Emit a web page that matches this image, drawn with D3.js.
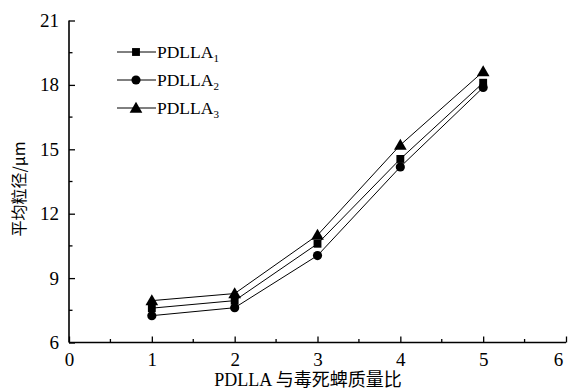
<!DOCTYPE html>
<html>
<head>
<meta charset="utf-8">
<script src="https://cdn.jsdelivr.net/npm/d3@7"></script>
<style>
  body{margin:0;background:#fff}
  svg text{font-family:"Liberation Serif","Noto Sans CJK SC",serif;fill:#000}
</style>
</head>
<body>
<div id="chart"></div>
<script>
// data
const ratios=[1,2,3,4,5]
const pdlla1=[7.6,7.95,10.6,14.55,18.1]
const pdlla2=[7.25,7.62,10.05,14.18,17.88]
const pdlla3=[7.95,8.28,11.0,15.2,18.62]
const seriesNames=["PDLLA","PDLLA","PDLLA"]
const seriesSubs=["1","2","3"]
const xTicks=[0,1,2,3,4,5,6]
const yTicks=[6,9,12,15,18,21]

const width=570,height=389
const padL=69,padR=566,padT=20.5,padB=342.5

const svg=d3.select("#chart").append("svg").attr("width",width).attr("height",height)

const x=d3.scaleLinear().domain([0,6]).range([padL,padR])
const y=d3.scaleLinear().domain([6,21]).range([padB,padT])

// axes with inward ticks
const xAxis=d3.axisBottom(x).tickValues(xTicks).tickSize(-6).tickPadding(10.5).tickFormat(d3.format("d"))
const yAxis=d3.axisLeft(y).tickValues(yTicks).tickSize(-6).tickPadding(10).tickFormat(d3.format("d"))

const gx=svg.append("g").attr("transform","translate(0,"+padB+")").call(xAxis)
const gy=svg.append("g").attr("transform","translate("+padL+",0)").call(yAxis)

// minor ticks
gx.selectAll(".minor").data(d3.range(0.5,6,1)).enter().append("line")
  .attr("x1",d=>x(d)).attr("x2",d=>x(d)).attr("y1",0).attr("y2",-3.5).attr("stroke","#000").attr("stroke-width",1.3)
gy.selectAll(".minor").data(d3.range(7.5,21,3)).enter().append("line")
  .attr("y1",d=>y(d)).attr("y2",d=>y(d)).attr("x1",0).attr("x2",3.5).attr("stroke","#000").attr("stroke-width",1.3)

for(const g of [gx,gy]){
  g.select(".domain").attr("stroke","#000").attr("stroke-width",1.6)
  g.selectAll(".tick line").attr("stroke","#000").attr("stroke-width",1.3)
  g.selectAll(".tick text").style("font-size","19px").style("font-family","Liberation Serif")
}
gx.select(".domain").attr("d","M"+padL+",0H"+padR)
gy.select(".domain").attr("d","M0,"+padB+"V"+padT)
// last x label sits a bit left so it stays inside the page
gx.selectAll(".tick text").filter(d=>d==6).attr("dx",-8)

// series
const allSeries=[pdlla1,pdlla2,pdlla3]
const shapes=[d3.symbolSquare,d3.symbolCircle,d3.symbolTriangle]
const sizes=[62,66,70]
const line=d3.line().x((d,i)=>x(ratios[i])).y(d=>y(d))

allSeries.forEach((vals,k)=>{
  svg.append("path").datum(vals).attr("d",line).attr("fill","none").attr("stroke","#000").attr("stroke-width",1)
  svg.selectAll(".m"+k).data(vals).enter().append("path")
    .attr("d",d3.symbol().type(shapes[k]).size(sizes[k]))
    .attr("transform",(d,i)=>"translate("+x(ratios[i])+","+(y(d)+(k==2?1:0))+")")
    .attr("fill","#000")
})

// legend
const legend=svg.append("g")
seriesNames.forEach((name,k)=>{
  const ly=52+k*28
  legend.append("line").attr("x1",117).attr("x2",156).attr("y1",ly).attr("y2",ly).attr("stroke","#000").attr("stroke-width",1)
  legend.append("path").attr("d",d3.symbol().type(shapes[k]).size(sizes[k])).attr("transform","translate(136,"+(ly+(k==2?1:0))+")").attr("fill","#000")
  const t=legend.append("text").attr("x",157).attr("y",ly+6).style("font-size","17.5px")
  t.append("tspan").text(name)
  t.append("tspan").attr("dy",4).style("font-size","11px").text(seriesSubs[k])
})

// axis titles
svg.append("text").attr("x",308).attr("y",386).attr("text-anchor","middle").style("font-size","18px").text("PDLLA 与毒死蜱质量比")
svg.append("text").attr("transform","translate(25,189) rotate(-90)").attr("text-anchor","middle")
  .style("font-size","16px").style("font-family","Noto Sans CJK SC").text("平均粒径/μm")
</script>
</body>
</html>
